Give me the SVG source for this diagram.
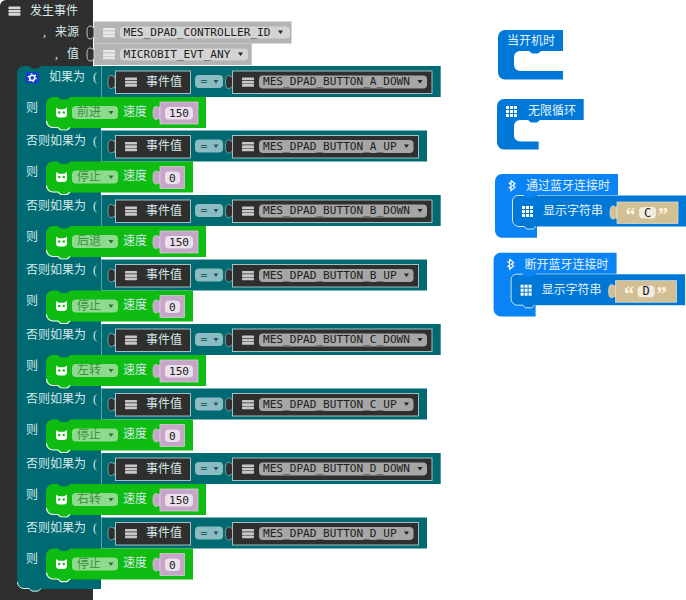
<svg xmlns="http://www.w3.org/2000/svg" width="686" height="600" viewBox="0 0 686 600">
<style>
text{font-family:"Noto Sans CJK SC","Liberation Sans",sans-serif;font-size:12px;fill:#d6e8ea}
.m{font-family:"DejaVu Sans Mono","Liberation Mono",monospace;font-size:11.1px;fill:#202020}
.p{font-family:"Liberation Serif",serif}
.dk{fill:#2f2f2f}.tl{fill:#006a72}.gn{fill:#0fbc11}
.sp{stroke:#5ba3aa;stroke-width:1;fill:none}
.ev{fill:#2f2f2f;stroke:#a3bfc2;stroke-width:1}
.dd{fill:#a6a6a6}.eq{fill:#8bbcc2}.gd{fill:#8edb90}
.val{fill:#c5a5c8;stroke:#e0d0e2;stroke-width:.7}.pill{fill:#ebe0ec}
.ar{fill:#202020}.ga{fill:#1f7a22}
.w{fill:#fff}.hl{fill:none;stroke:#f4faf4;stroke-width:1.2}
.gt{fill:#3f8f44}
.bl1{fill:#0078d7}.bl2{fill:#0a84f5}
.bt{fill:#e6f2fb}
.str{fill:#d2bf95;stroke:#ece2cc;stroke-width:.7}
.q{font-family:"Liberation Serif",serif;font-size:20px;font-weight:bold;fill:#fff5e0}
</style>
<defs>
<g id="st"><rect width="12" height="2.600" rx=".6"/><rect y="3.300" width="12" height="2.600" rx=".6"/><rect y="6.600" width="12" height="2.600" rx=".6"/></g>
<g id="gr"><rect width="3" height="3"/><rect x="4" width="3" height="3"/><rect x="8" width="3" height="3"/><rect y="4" width="3" height="3"/><rect x="4" y="4" width="3" height="3"/><rect x="8" y="4" width="3" height="3"/><rect y="8" width="3" height="3"/><rect x="4" y="8" width="3" height="3"/><rect x="8" y="8" width="3" height="3"/></g>
<path id="tab" d="M0 0 V1.500 C-2 1.500 -2 0 -4 0 C-6 0 -7 2 -7 6.500 C-7 11 -6 13 -4 13 C-2 13 -2 11.500 0 11.500 V13 Z"/>
<g id="cat"><path class="w" d="M0 0 L2.800 1.800 H8.200 L11 0 V7 C11 9 9.500 10 8 10 H3 C1.500 10 0 9 0 7 Z"/><circle cx="3.200" cy="5" r="1.200" fill="#0fbc11"/><circle cx="7.800" cy="5" r="1.200" fill="#0fbc11"/></g>
<path id="act150" class="gn" d="M53 31 H58 l3 2.600 h6 l3-2.600 H206 V62 H70 l-3 2.600 h-6 l-3-2.600 H53 a7 7 0 0 1-7-7 V38 a7 7 0 0 1 7-7z"/>
<path id="act0" class="gn" d="M53 31 H58 l3 2.600 h6 l3-2.600 H193 V62 H70 l-3 2.600 h-6 l-3-2.600 H53 a7 7 0 0 1-7-7 V38 a7 7 0 0 1 7-7z"/>
<path id="ahl" class="hl" d="M46.500 55 a6.500 6.500 0 0 0 6.500 6.500 H58 l3 2.600 h6 l3-2.600"/>
<path id="bt" d="M3 0 L7 3.200 L4.800 5 L7 6.800 L3 10 V6 L.8 7.800 M3 4 L.8 2.200 M3 0 V10" fill="none" stroke="#fff" stroke-width="1.200"/>
<g id="head">
 <use href="#tab" x="115" y="9.500" fill="#2f2f2f" stroke="#a3bfc2" stroke-width=".7"/>
 <rect class="ev" x="115.500" y="5" width="75" height="22.500"/>
 <use href="#st" x="125" y="11.500" fill="#c8c8c8"/>
 <text x="146" y="19.700">事件值</text>
 <rect class="eq" x="195" y="9" width="28" height="13" rx="4"/>
 <text class="m" x="200.500" y="19" style="fill:#1f5a60">=</text>
 <path d="M213.500 14 h5 l-2.500 3.500z" fill="#1f5a60"/>
 <use href="#tab" x="232.500" y="9.500" fill="#2f2f2f" stroke="#a3bfc2" stroke-width=".7"/>
</g>
<g id="down">
 <rect class="ev" x="232.500" y="5" width="199.500" height="22.500"/><use href="#st" x="242" y="11.500" fill="#c8c8c8"/>
 <rect class="dd" x="259" y="9.500" width="168" height="13" rx="4"/>
 <path class="ar" d="M417.500 14 h5 l-2.500 3.500z"/>
</g>
<g id="up">
 <rect class="ev" x="232.500" y="5" width="186" height="22.500"/><use href="#st" x="242" y="11.500" fill="#c8c8c8"/>
 <rect class="dd" x="259" y="9.500" width="154.500" height="13" rx="4"/>
 <path class="ar" d="M404 14 h5 l-2.500 3.500z"/>
</g>
<g id="a150">
 <use href="#act150"/><use href="#ahl"/><use href="#cat" x="56" y="41.500"/>
 <rect class="gd" x="72" y="40" width="46" height="13" rx="4"/><path class="ga" d="M108.500 45 h5 l-2.500 3.500z"/>
 <text x="123" y="49.800">速度</text>
 <use href="#tab" x="160" y="40.500" fill="#c5a5c8" stroke="#e0d0e2" stroke-width=".7"/><rect class="val" x="160" y="36" width="38" height="22"/><rect class="pill" x="165" y="41" width="28" height="12.500" rx="4"/><text class="m" x="169" y="51">150</text>
</g>
<g id="a0">
 <use href="#act0"/><use href="#ahl"/><use href="#cat" x="56" y="41.500"/>
 <rect class="gd" x="72" y="40" width="46" height="13" rx="4"/><path class="ga" d="M108.500 45 h5 l-2.500 3.500z"/>
 <text x="123" y="49.800">速度</text>
 <use href="#tab" x="160" y="40.500" fill="#c5a5c8" stroke="#e0d0e2" stroke-width=".7"/><rect class="val" x="160" y="36" width="24.500" height="22"/><rect class="pill" x="165" y="41" width="15" height="12.500" rx="4"/><text class="m" x="169" y="51">0</text>
</g>
<g id="barL"><rect class="tl" x="46" y="0" width="394.700" height="31"/><path class="sp" d="M101.500 0 V31"/></g>
<g id="barS"><rect class="tl" x="46" y="0" width="381" height="31"/><path class="sp" d="M101.500 0 V31"/></g>
</defs>

<g id="event-block">
<path class="dk" d="M6 0 H93 V600 H0 V6 a6 6 0 0 1 6-6z"/>
<use href="#st" x="8.500" y="6.500" fill="#d8d8d8"/>
<text x="30" y="15">发生事件</text>
<text class="p" x="43" y="36">,</text><text x="55" y="36.300">来源</text>
<text class="p" x="55" y="58">,</text><text x="67" y="58.300">值</text>
</g>

<g id="source-block">
<rect x="94" y="21.500" width="197.500" height="22" fill="#b3b3b3"/>
<use href="#tab" x="94" y="26" fill="#2f2f2f" stroke="#d8d8d8" stroke-width=".9"/>
<use href="#st" x="103" y="28" fill="#e8e8e8"/>
<rect x="120" y="26.500" width="170" height="12" rx="4" fill="#d4d4d4"/>
<text class="m" x="123.500" y="36">MES_DPAD_CONTROLLER_ID</text>
<path class="ar" d="M278 30.500 h5 l-2.500 3.500z"/>
</g>
<g id="value-block">
<rect x="94" y="43.500" width="157.700" height="21.500" fill="#b3b3b3"/>
<use href="#tab" x="94" y="48" fill="#2f2f2f" stroke="#d8d8d8" stroke-width=".9"/>
<use href="#st" x="103" y="50" fill="#e8e8e8"/>
<rect x="120" y="48.500" width="128" height="12" rx="4" fill="#d4d4d4"/>
<text class="m" x="123.500" y="58">MICROBIT_EVT_ANY</text>
<path class="ar" d="M238 52.500 h5 l-2.500 3.500z"/>
</g>

<g id="if-block">
<path class="tl" d="M24 66 H29 l3 2.600 h6 l3-2.600 H101 V589 H41 l-3 2.600 h-6 l-3-2.600 H24 a7 7 0 0 1-7-7 V73 a7 7 0 0 1 7-7z"/>
<path fill="none" stroke="#dfeef0" d="M17.500 582 a6.500 6.500 0 0 0 6.500 6.500 H29 l3 2.600 h6 l3-2.600"/>
<rect x="25.500" y="72" width="13.500" height="11.500" rx="2" fill="#1240c8"/>
<circle cx="32.200" cy="77.800" r="2.600" fill="none" stroke="#fff" stroke-width="1.500"/>
<circle cx="32.200" cy="77.800" r="4" fill="none" stroke="#fff" stroke-width="1.100" stroke-dasharray="1.600 2.600"/>
</g>

<g id="row-1" transform="translate(0,66)">
<rect class="tl" x="101" y="0" width="339.700" height="31"/><path class="sp" d="M101.500 0 V31"/>
<text x="49" y="14.500">如果为</text><text class="p" x="93" y="14.500">(</text><text x="26" y="45.500">则</text>
<use href="#head"/><use href="#down"/>
<text class="m" x="263" y="19.300">MES_DPAD_BUTTON_A_DOWN</text>
<use href="#a150"/><text class="gt" x="77" y="50">前进</text>
</g>

<g id="row-2" transform="translate(0,130.500)">
<use href="#barS"/>
<text x="26" y="14.500">否则如果为</text><text class="p" x="93" y="14.500">(</text><text x="26" y="45.500">则</text>
<use href="#head"/><use href="#up"/>
<text class="m" x="263" y="19.300">MES_DPAD_BUTTON_A_UP</text>
<use href="#a0"/><text class="gt" x="77" y="50">停止</text>
</g>

<g id="row-3" transform="translate(0,195)">
<use href="#barL"/>
<text x="26" y="14.500">否则如果为</text><text class="p" x="93" y="14.500">(</text><text x="26" y="45.500">则</text>
<use href="#head"/><use href="#down"/>
<text class="m" x="263" y="19.300">MES_DPAD_BUTTON_B_DOWN</text>
<use href="#a150"/><text class="gt" x="77" y="50">后退</text>
</g>

<g id="row-4" transform="translate(0,259.500)">
<use href="#barS"/>
<text x="26" y="14.500">否则如果为</text><text class="p" x="93" y="14.500">(</text><text x="26" y="45.500">则</text>
<use href="#head"/><use href="#up"/>
<text class="m" x="263" y="19.300">MES_DPAD_BUTTON_B_UP</text>
<use href="#a0"/><text class="gt" x="77" y="50">停止</text>
</g>

<g id="row-5" transform="translate(0,324)">
<use href="#barL"/>
<text x="26" y="14.500">否则如果为</text><text class="p" x="93" y="14.500">(</text><text x="26" y="45.500">则</text>
<use href="#head"/><use href="#down"/>
<text class="m" x="263" y="19.300">MES_DPAD_BUTTON_C_DOWN</text>
<use href="#a150"/><text class="gt" x="77" y="50">左转</text>
</g>

<g id="row-6" transform="translate(0,388.500)">
<use href="#barS"/>
<text x="26" y="14.500">否则如果为</text><text class="p" x="93" y="14.500">(</text><text x="26" y="45.500">则</text>
<use href="#head"/><use href="#up"/>
<text class="m" x="263" y="19.300">MES_DPAD_BUTTON_C_UP</text>
<use href="#a0"/><text class="gt" x="77" y="50">停止</text>
</g>

<g id="row-7" transform="translate(0,453)">
<use href="#barL"/>
<text x="26" y="14.500">否则如果为</text><text class="p" x="93" y="14.500">(</text><text x="26" y="45.500">则</text>
<use href="#head"/><use href="#down"/>
<text class="m" x="263" y="19.300">MES_DPAD_BUTTON_D_DOWN</text>
<use href="#a150"/><text class="gt" x="77" y="50">右转</text>
</g>

<g id="row-8" transform="translate(0,517.500)">
<use href="#barS"/>
<text x="26" y="14.500">否则如果为</text><text class="p" x="93" y="14.500">(</text><text x="26" y="45.500">则</text>
<use href="#head"/><use href="#up"/>
<text class="m" x="263" y="19.300">MES_DPAD_BUTTON_D_UP</text>
<use href="#a0"/><text class="gt" x="77" y="50">停止</text>
</g>

<g id="on-start">
<path class="bl1" d="M505 30 H563 V51 H541 l-3 2.600 h-6 l-3-2.600 H520 a6 6 0 0 0-6 6 V65 a6 6 0 0 0 6 6 H563 V79.500 H505 a7 7 0 0 1-7-7 V37 a7 7 0 0 1 7-7z"/>
<text class="bt" x="507" y="45">当开机时</text>
</g>
<g id="forever">
<path class="bl1" d="M504 99 H583.700 V120 H540 l-3 2.600 h-6 l-3-2.600 H520 a6 6 0 0 0-6 6 V135.500 a6 6 0 0 0 6 6 H538.700 V149.500 H504 a7 7 0 0 1-7-7 V106 a7 7 0 0 1 7-7z"/>
<use href="#gr" x="506" y="106" fill="#fff"/>
<text class="bt" x="528" y="114.500">无限循环</text>
</g>
<g id="bt-connect">
<path class="bl2" d="M502 174 H618 V195 H537 V237.700 H502 a7 7 0 0 1-7-7 V181 a7 7 0 0 1 7-7z"/>
<path class="bl1" d="M518 195.500 H524 l3 2.600 h6 l3-2.600 H686 V226.500 H536 l-3 2.600 h-6 l-3-2.600 H518 a6 6 0 0 1-6-6 V201.500 a6 6 0 0 1 6-6z"/>
<path fill="none" stroke="#cfe6fa" d="M524 195.500 H518 a5.500 5.500 0 0 0-5.500 5.500 V220 a6.500 6.500 0 0 0 6.500 6.500 H524 l3 2.600 h6 l3-2.600"/>
<use href="#bt" x="508" y="180.500"/>
<text class="bt" x="526" y="190">通过蓝牙连接时</text>
<use href="#gr" x="522" y="206" fill="#fff"/>
<text class="bt" x="543" y="215">显示字符串</text>
<use href="#tab" x="617" y="206" fill="#d2bf95" stroke="#ece2cc" stroke-width=".7"/>
<rect class="str" x="617" y="202" width="61" height="21.500"/>
<text class="q" x="625.500" y="222">“</text>
<rect x="639" y="207" width="17" height="11.500" rx="4" fill="#f2ece0"/>
<text class="m" x="644" y="216.800" style="font-size:12px">C</text>
<text class="q" x="658" y="222">”</text>
</g>
<g id="bt-disconnect" transform="translate(-1.400,78.700)">
<path class="bl2" d="M502 174 H618 V195 H537 V237.700 H502 a7 7 0 0 1-7-7 V181 a7 7 0 0 1 7-7z"/>
<path class="bl1" d="M518 195.500 H524 l3 2.600 h6 l3-2.600 H686.500 V226.500 H536 l-3 2.600 h-6 l-3-2.600 H518 a6 6 0 0 1-6-6 V201.500 a6 6 0 0 1 6-6z"/>
<path fill="none" stroke="#cfe6fa" d="M524 195.500 H518 a5.500 5.500 0 0 0-5.500 5.500 V220 a6.500 6.500 0 0 0 6.500 6.500 H524 l3 2.600 h6 l3-2.600"/>
<use href="#bt" x="508" y="180.500"/>
<text class="bt" x="526" y="190">断开蓝牙连接时</text>
<use href="#gr" x="522" y="206" fill="#fff"/>
<text class="bt" x="543" y="215">显示字符串</text>
<use href="#tab" x="617" y="206" fill="#d2bf95" stroke="#ece2cc" stroke-width=".7"/>
<rect class="str" x="617" y="202" width="61" height="21.500"/>
<text class="q" x="625.500" y="222">“</text>
<rect x="639" y="207" width="17" height="11.500" rx="4" fill="#f2ece0"/>
<text class="m" x="644" y="216.800" style="font-size:12px">D</text>
<text class="q" x="658" y="222">”</text>
</g>
</svg>
